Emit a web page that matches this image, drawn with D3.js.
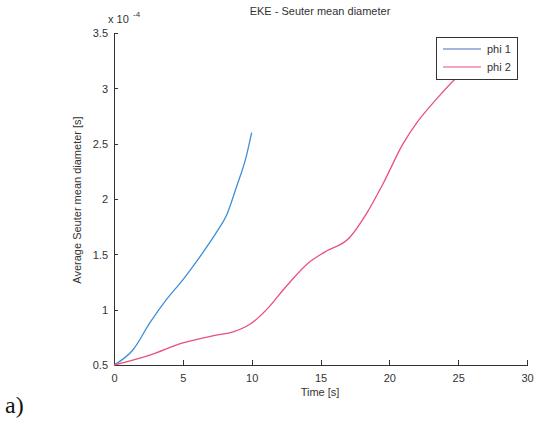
<!DOCTYPE html>
<meta charset="utf-8">
<style>
body { margin: 0; background: #fff; font-family: Arial, "Liberation Sans", sans-serif; }
.axis path, .axis line { fill: none; stroke: #333; stroke-width: 1; shape-rendering: crispEdges; }
.axis text { fill: #333; font-size: 11px; font-family: Arial, "Liberation Sans", sans-serif; }
</style>
<body>
<script src="https://d3js.org/d3.v7.min.js"></script>
<script>
// values in units of 1e-4
var phi1Time  = [0, 1.4, 2.6, 3.8, 5.0, 6.25, 7.45, 8.2, 8.9, 9.6, 10.0];
var phi1Value = [0.5, 0.64, 0.88, 1.09, 1.27, 1.48, 1.70, 1.86, 2.11, 2.38, 2.6];
var phi2Time  = [0, 2.6, 5.0, 7.45, 8.65, 9.9, 11.3, 12.3, 14.1, 15.3, 17.1, 18.35, 19.55, 21.0, 22.0, 23.4, 25.0, 25.6];
var phi2Value = [0.5, 0.59, 0.70, 0.77, 0.80, 0.87, 1.03, 1.18, 1.42, 1.52, 1.65, 1.87, 2.14, 2.50, 2.69, 2.90, 3.11, 3.17];
var xTicks = [0, 5, 10, 15, 20, 25, 30];
var yTicks = [0.5, 1, 1.5, 2, 2.5, 3, 3.5];
var seriesNames = ["phi 1", "phi 2"];
var seriesColors = ["#3f8fd6", "#e8507c"];

var margin = { left: 114, top: 33, right: 14, bottom: 63 };
var width = 527 - 114, height = 365 - 33;

var svg = d3.select("body").append("svg")
    .attr("width", 541).attr("height", 428);
var g = svg.append("g").attr("transform", "translate(" + margin.left + "," + margin.top + ")");

var x = d3.scaleLinear().domain([0, 30]).range([0, width]);
var y = d3.scaleLinear().domain([0.5, 3.5]).range([height, 0]);

// X axis, ticks pointing inward
var xAxis = g.append("g").attr("class", "axis")
    .attr("transform", "translate(0," + height + ")")
    .call(d3.axisBottom(x).tickValues(xTicks).tickSizeInner(-5).tickSizeOuter(0).tickPadding(9).tickFormat(d3.format("d")));

// Y axis
var yAxis = g.append("g").attr("class", "axis")
    .call(d3.axisLeft(y).tickValues(yTicks).tickSizeInner(-4).tickSizeOuter(0).tickPadding(6).tickFormat(function(d){ return String(d); }));
yAxis.selectAll(".tick text").attr("dy", "0.35em");

// lines
var line = d3.line().x(function(d){ return x(d[0]); }).y(function(d){ return y(d[1]); });
var series = [
  d3.zip(phi1Time, phi1Value),
  d3.zip(phi2Time, phi2Value)
];
series.forEach(function(s, i) {
  g.append("path").datum(s)
    .attr("fill", "none")
    .attr("stroke", seriesColors[i])
    .attr("stroke-width", 1.3)
    .attr("d", line.curve(d3.curveMonotoneX));
});

// exponent label
svg.append("text").attr("x", 108).attr("y", 23)
    .attr("font-size", "11px").attr("fill", "#333").text("x 10");
svg.append("text").attr("x", 133).attr("y", 17)
    .attr("font-size", "8px").attr("fill", "#333").text("-4");

// title
svg.append("text").attr("x", 320).attr("y", 15)
    .attr("text-anchor", "middle").attr("font-size", "11px").attr("fill", "#333")
    .text("EKE - Seuter mean diameter");

// axis labels
svg.append("text").attr("x", 320).attr("y", 396)
    .attr("text-anchor", "middle").attr("font-size", "11px").attr("fill", "#333")
    .text("Time [s]");
svg.append("text")
    .attr("transform", "translate(81," + (200) + ") rotate(-90)")
    .attr("text-anchor", "middle").attr("font-size", "11px").attr("fill", "#333")
    .text("Average Seuter mean diameter [s]");

// legend
var lg = svg.append("g").attr("transform", "translate(436,37)");
lg.append("rect").attr("width", 81).attr("height", 42)
    .attr("fill", "#fff").attr("stroke", "#333").attr("stroke-width", 1)
    .attr("shape-rendering", "crispEdges");
seriesNames.forEach(function(n, i) {
  var yy = 12 + i * 18;
  lg.append("line").attr("x1", 7).attr("x2", 45).attr("y1", yy).attr("y2", yy)
    .attr("stroke", i === 0 ? "#4a6fc0" : seriesColors[i]).attr("stroke-width", 1.2);
  lg.append("text").attr("x", 51).attr("y", yy + 4)
    .attr("font-size", "11px").attr("fill", "#333").text(n);
});

// panel label
svg.append("text").attr("x", 5).attr("y", 413)
    .attr("font-family", "'Liberation Serif', 'DejaVu Serif', serif")
    .attr("font-size", "24px").attr("fill", "#111").text("a)");
</script>
</body>
